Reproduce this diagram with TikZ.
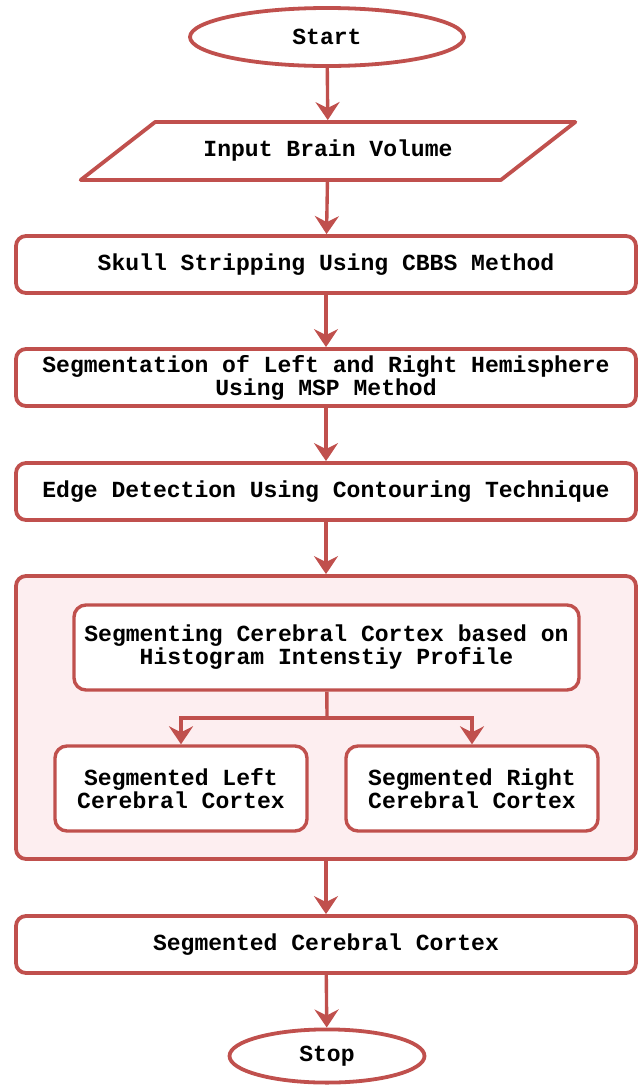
\documentclass[tikz,border=0pt]{standalone}
\usepackage{fontspec}
\setmonofont{Liberation Mono}
\usepackage{xcolor}
\usetikzlibrary{shapes.geometric, arrows.meta, positioning}
\definecolor{flowred}{RGB}{192,80,77}
\definecolor{flowpink}{RGB}{253,238,240}

\begin{document}
\begin{tikzpicture}[
    every node/.style={font=\ttfamily\bfseries\fontsize{16.4}{16.4}\selectfont, align=center},
    wide/.style={draw=flowred, line width=2.7pt, rounded corners=0.25cm, fill=white, minimum width=15.5cm, minimum height=1.425cm},
    inner/.style={draw=flowred, line width=2.4pt, rounded corners=0.3cm, fill=white, minimum height=2.125cm},
    terminal/.style={ellipse, draw=flowred, line width=2.7pt, fill=white},
    flow/.style={draw=flowred, line width=2.4pt, -{Stealth[length=0.45cm, width=0.6cm, inset=0.15cm]}}
]
    % Frame of the page
    \useasboundingbox (0,0) rectangle (15.95,-27.125);

    % Start and input
    \node (start) [terminal, minimum width=6.85cm, minimum height=1.45cm] at (8.175,-0.925) {Start};
    \node (input) [trapezium, trapezium left angle=29, trapezium right angle=151, trapezium stretches=true,
        draw=flowred, line width=2.7pt, line join=round, fill=white,
        minimum width=12.375cm, minimum height=1.45cm] at (8.2,-3.775) {Input Brain Volume};

    % Preprocessing steps
    \node (skull) [wide] at (8.15,-6.6125) {Skull Stripping Using CBBS Method};
    \node (hemi) [wide] at (8.15,-9.4375) {Segmentation of Left and Right Hemisphere\\Using MSP Method};
    \node (edge) [wide] at (8.15,-12.2875) {Edge Detection Using Contouring Technique};

    % Cortex segmentation block
    \node (panel) [wide, fill=flowpink, minimum height=7.075cm] at (8.15,-17.9375) {};
    \node (hist) [inner, minimum width=12.625cm] at (8.1625,-16.1875) {Segmenting Cerebral Cortex based on\\Histogram Intenstiy Profile};
    \node (left) [inner, minimum width=6.3cm] at (4.525,-19.7125) {Segmented Left\\Cerebral Cortex};
    \node (right) [inner, minimum width=6.3cm] at (11.8,-19.7125) {Segmented Right\\Cerebral Cortex};
    \coordinate (split) at (8.175,-17.95);

    % Result and stop
    \node (result) [wide] at (8.15,-23.6125) {Segmented Cerebral Cortex};
    \node (stop) [terminal, minimum width=4.875cm, minimum height=1.33cm] at (8.175,-26.4) {Stop};

    % Connectors
    \draw[flow] (start) -- (input);
    \draw[flow] (input) -- (skull);
    \draw[flow] (skull) -- (hemi);
    \draw[flow] (hemi) -- (edge);
    \draw[flow] (edge) -- (panel);
    \draw[draw=flowred, line width=2.4pt] (hist) -- (split);
    \draw[flow] (split) -| (left);
    \draw[flow] (split) -| (right);
    \draw[flow] (panel) -- (result);
    \draw[flow] (result) -- (stop);
\end{tikzpicture}
\end{document}
